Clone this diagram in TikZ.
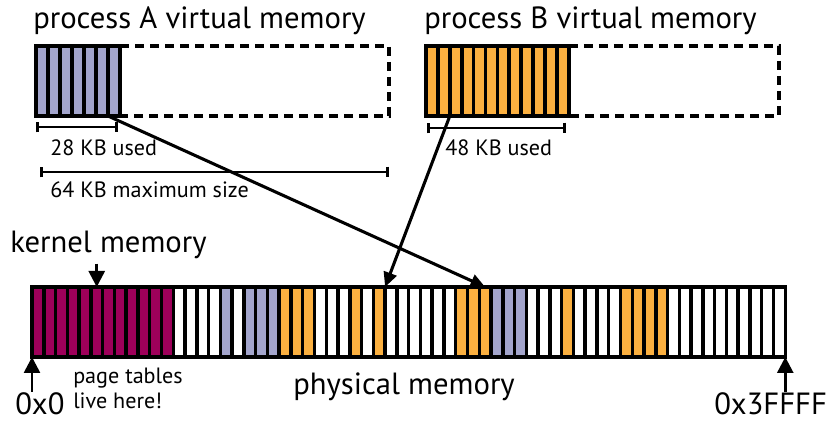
\documentclass[tikz,border=0pt]{standalone}
\usepackage{fontspec}
\setmainfont{PT Sans}
\usetikzlibrary{arrows.meta}

\definecolor{page0}{RGB}{255,255,255}
\definecolor{page1}{RGB}{163,165,204}
\definecolor{page2}{RGB}{251,176,64}
\definecolor{page3}{RGB}{158,0,90}

% which process owns each physical page (0 free, 1 A, 2 B, 3 kernel)
\def\pagemap{{3,3,3,3,3,3,3,3,3,3,3,3,0,0,0,0,1,0,1,1,1,2,2,2,0,0,0,2,0,2,0,0,0,0,0,0,2,2,2,1,1,1,0,0,0,2,0,0,0,0,2,2,2,2,0,0,0,0,0,0,0,0,0,0}}

\begin{document}
\begin{tikzpicture}[x=0.75pt,y=-0.75pt,
    vpage/.style={draw=black,line width=2.8pt,minimum height=52.5pt,inner sep=0pt,outer sep=0pt},
    ppage/.style={draw=black,line width=2.6pt,minimum width=8.83pt,minimum height=52.5pt,inner sep=0pt,outer sep=0pt},
    vspace/.style={line width=2.6pt,dash pattern=on 6.75pt off 4.5pt},
    big/.style={font=\fontsize{23}{27}\selectfont,inner sep=0pt},
    small/.style={font=\fontsize{16.6}{18.75}\selectfont,inner sep=0pt},
    span/.style={line width=2.1pt,{Bar[width=8pt]}-{Bar[width=8pt]}},
    map/.style={line width=2.3pt,-{Triangle[length=11pt,width=10pt]}},
    ptr/.style={line width=2pt,-{Triangle[length=12pt,width=12pt]}}]
    \useasboundingbox (0,0) rectangle (826,423);

    % virtual memory of the two processes
    \node[big,anchor=base west] (titleA) at (33,29) {process A virtual memory};
    \node[big,anchor=base west] (titleB) at (424,29) {process B virtual memory};
    \foreach \i in {0,...,6}
        \node[vpage,minimum width=9pt,fill=page1] (a\i) at ({36+12*(\i+0.5)},81) {};
    \foreach \i in {0,...,11}
        \node[vpage,minimum width=8.93pt,fill=page2] (b\i) at ({426+11.9*(\i+0.5)},81) {};
    \draw[vspace] (a6.north east) -| (389,116) -- (a6.south east);
    \draw[vspace] (b11.north east) -| (779,116) -- (b11.south east);

    \draw[span] (36,127) -- (118,127);
    \node[small,anchor=base west] (usedA) at (50,156) {28 KB used};
    \draw[span] (40,172) -- (389,172);
    \node[small,anchor=base west] (maxA) at (50,198) {64 KB maximum size};
    \draw[span] (427,128) -- (566,128);
    \node[small,anchor=base west] (usedB) at (445,156) {48 KB used};

    % physical memory
    \foreach \i in {0,...,63} {
        \pgfmathtruncatemacro{\owner}{\pagemap[\i]}
        \node[ppage,fill=page\owner] (p\i) at ({32+11.77*(\i+0.5)},322) {};
    }
    \draw[line width=2.6pt] (p0.north west) rectangle (p63.south east);

    \draw[map] (a6.south west) -- (p38.north);
    \draw[map] (b2.south west) -- (p29.north east);

    \node[big,anchor=base west] (kernel) at (10,253) {kernel memory};
    \draw[ptr] ([yshift=-3pt]kernel.south -| p5.north) -- (p5.north);
    \node[small,anchor=north west,align=left] (tables) at (73,368) {page tables\\live here!};
    \node[big,anchor=base west] (phys) at (293,395) {physical memory};

    \node[big,anchor=base west] (start) at (15,415) {0x0};
    \draw[ptr] ([yshift=-26pt]p0.south west) -- (p0.south west);
    \node[big,anchor=base west] (end) at (714,415) {0x3FFFF};
    \draw[ptr] ([yshift=-26pt]p63.south east) -- (p63.south east);
\end{tikzpicture}
\end{document}
